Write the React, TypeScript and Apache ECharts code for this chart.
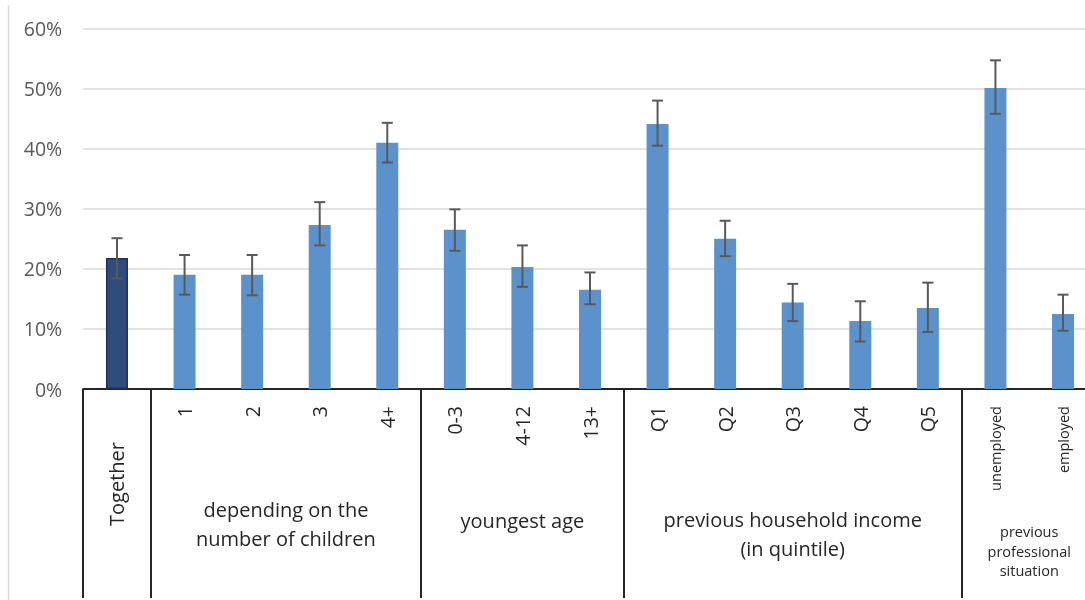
import React, { useEffect, useRef } from "react";
import * as echarts from "echarts";

const categories = ["Together", "1", "2", "3", "4+", "0-3", "4-12", "13+", "Q1", "Q2", "Q3", "Q4", "Q5", "unemployed", "employed"];
const values = [21.8, 19.0, 19.0, 27.3, 41.0, 26.5, 20.3, 16.5, 44.1, 25.0, 14.4, 11.3, 13.5, 50.1, 12.5];
const errLow = [18.4, 15.7, 15.6, 23.9, 37.7, 23.0, 17.0, 14.1, 40.5, 22.1, 11.3, 7.9, 9.5, 45.8, 9.7];
const errHigh = [25.1, 22.3, 22.3, 31.1, 44.3, 29.9, 23.9, 19.4, 48.0, 28.0, 17.5, 14.6, 17.7, 54.7, 15.7];
const groupLabels = ["depending on the\nnumber of children", "youngest age", "previous household income\n(in quintile)", "previous\nprofessional\nsituation"];
const groupFirst = [1, 5, 8, 13];
const groupLast = [4, 7, 12, 14];
const yTicks = [0, 10, 20, 30, 40, 50, 60];
const separatorIdx = [0, 1, 5, 8, 13];

const FONT = "Open Sans";

export default function App() {
  const ref = useRef<HTMLDivElement>(null);
  useEffect(() => {
    if (!ref.current) return;
    const chart = echarts.init(ref.current, undefined, { renderer: "svg" });
    chart.setOption({
      animation: false,
      grid: { left: 83.2, top: 28.5, width: 1013.6, height: 360.5, containLabel: false },
      xAxis: {
        type: "category",
        data: categories,
        axisLine: { show: true, lineStyle: { color: "#262626", width: 2 } },
        axisTick: {
          show: true,
          length: 209,
          interval: (i: number) => separatorIdx.includes(i),
          lineStyle: { color: "#262626", width: 2 },
        },
        axisLabel: {
          interval: 0,
          rotate: 90,
          margin: 17,
          color: "#262626",
          fontFamily: FONT,
          fontSize: 19.5,
          formatter: (v: string) => (v === "Together" ? "" : v === "unemployed" || v === "employed" ? `{s|${v}}` : v),
          rich: { s: { fontSize: 14.5, fontFamily: FONT, color: "#262626" } },
        },
      },
      yAxis: {
        type: "value",
        min: yTicks[0],
        max: yTicks[yTicks.length - 1],
        interval: 10,
        axisLine: { show: false },
        axisTick: { show: false },
        splitLine: { lineStyle: { color: "#D9D9D9", width: 1.5 } },
        axisLabel: { formatter: "{value}%", color: "#595959", fontFamily: FONT, fontSize: 19.5, margin: 21 },
      },
      series: [
        {
          type: "bar",
          barWidth: 22,
          data: values.map((v, i) =>
            i === 0
              ? { value: v, itemStyle: { color: "#2F4D7C", borderColor: "#1F3060", borderWidth: 1.5 } }
              : { value: v, itemStyle: { color: "#5B92CB" } }
          ),
          z: 2,
        },
        {
          type: "custom",
          z: 3,
          data: errLow.map((l, i) => [i, l, errHigh[i]]),
          renderItem: (params: any, api: any) => {
            const lo = api.coord([api.value(0), api.value(1)]);
            const hi = api.coord([api.value(0), api.value(2)]);
            const h = 5.5;
            const st = { stroke: "#595959", lineWidth: 2 };
            return {
              type: "group",
              children: [
                { type: "line", shape: { x1: lo[0], y1: lo[1], x2: hi[0], y2: hi[1] }, style: st },
                { type: "line", shape: { x1: lo[0] - h, y1: lo[1], x2: lo[0] + h, y2: lo[1] }, style: st },
                { type: "line", shape: { x1: hi[0] - h, y1: hi[1], x2: hi[0] + h, y2: hi[1] }, style: st },
              ],
            };
          },
        },
      ],
    });

    const px = (i: number) => chart.convertToPixel({ xAxisIndex: 0 }, i) as number;
    const graphics: any[] = [
      { type: "line", shape: { x1: 8.5, y1: 5, x2: 8.5, y2: 600 }, style: { stroke: "#D9D9D9", lineWidth: 1.5 } },
      {
        type: "text",
        x: px(0),
        y: 484,
        rotation: Math.PI / 2,
        style: { text: categories[0], fontFamily: FONT, fontSize: 20, fill: "#262626", align: "center", verticalAlign: "middle" },
      },
    ];
    const groupY = [524, 520, 534, 551];
    groupLabels.forEach((g, k) => {
      const cx = (px(groupFirst[k]) + px(groupLast[k])) / 2;
      const small = k === 3;
      graphics.push({
        type: "text",
        x: cx,
        y: groupY[k],
        style: {
          text: g,
          fontFamily: FONT,
          fontSize: small ? 14.5 : 20,
          lineHeight: small ? 19.5 : 28.5,
          fill: "#262626",
          align: "center",
          verticalAlign: "middle",
        },
      });
    });
    chart.setOption({ graphic: graphics });
    return () => chart.dispose();
  }, []);
  return (
    <div style={{ position: "fixed", left: 0, top: 0, width: 1085, height: 600, overflow: "hidden" }}>
      <div ref={ref} style={{ width: 1110, height: 600 }} />
    </div>
  );
}
